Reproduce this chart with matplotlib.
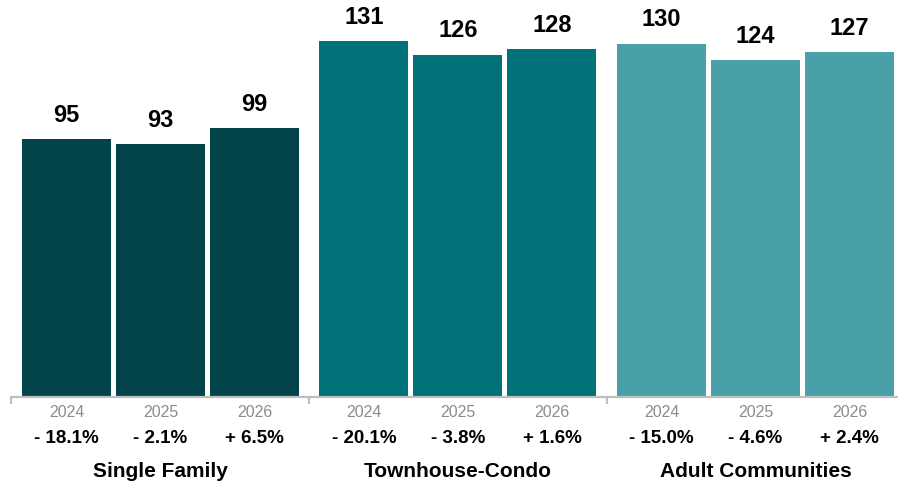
import numpy as np
import matplotlib
matplotlib.use('Agg')
import matplotlib.pyplot as plt

plt.rcParams['font.family'] = ['Liberation Sans', 'DejaVu Sans']

# Data
categories = ["Single Family", "Townhouse-Condo", "Adult Communities"]
years = ["2024", "2025", "2026"]
values = [[95, 93, 99], [131, 126, 128], [130, 124, 127]]
changes = [["- 18.1%", "- 2.1%", "+ 6.5%"],
           ["- 20.1%", "- 3.8%", "+ 1.6%"],
           ["- 15.0%", "- 4.6%", "+ 2.4%"]]
colors = ["#03434A", "#007278", "#4AA0A8"]

W, H = 898, 485
fig = plt.figure(figsize=(W / 100, H / 100), dpi=100)

# axes placed in pixel terms
left_px, right_px, base_px = 11, 898, 398
ymax = 140
px_per_unit = 258 / 95.0
ax_h = ymax * px_per_unit
ax = fig.add_axes([left_px / W, (H - base_px) / H, (right_px - left_px) / W, ax_h / H])

unit = 94.0          # px between bar centers in a group
bar_w = 89 / unit
group_step = 297.5 / unit
first_center = 66.5

ax.set_xlim((left_px - first_center) / unit, (right_px - first_center) / unit)
ax.set_ylim(0, ymax)

for i, cat in enumerate(categories):
    x0 = i * group_step
    xs = x0 + np.arange(len(years))
    ax.bar(xs, values[i], width=bar_w, color=colors[i], zorder=2)
    for x, v, yr, ch in zip(xs, values[i], years, changes[i]):
        ax.annotate(str(v), (x, v), xytext=(0, 18), textcoords="offset points",
                    ha="center", va="center", fontsize=17, fontweight="bold", color="black")
        ax.annotate(yr, (x, 0), xytext=(0, -10.5), textcoords="offset points",
                    xycoords=("data", "axes fraction"),
                    ha="center", va="center", fontsize=11.5, color="#8C8C8C")
        ax.annotate(ch, (x, 0), xytext=(0, -29.5), textcoords="offset points",
                    xycoords=("data", "axes fraction"),
                    ha="center", va="center", fontsize=13.5, fontweight="bold", color="black")
    ax.annotate(cat, (x0 + 1, 0), xytext=(0, -53), textcoords="offset points",
                xycoords=("data", "axes fraction"),
                ha="center", va="center", fontsize=15, fontweight="bold", color="black")

for s in ["top", "right", "left"]:
    ax.spines[s].set_visible(False)
ax.spines["bottom"].set_color("#BFBFBF")
ax.spines["bottom"].set_linewidth(1.6)
ax.set_yticks([])
ax.set_xticks([(11 - first_center) / unit, (309 - first_center) / unit, (607 - first_center) / unit])
ax.tick_params(axis="x", length=5, width=1.6, color="#BFBFBF", labelbottom=False)

plt.savefig("out.png", dpi=100)
plt.close()
